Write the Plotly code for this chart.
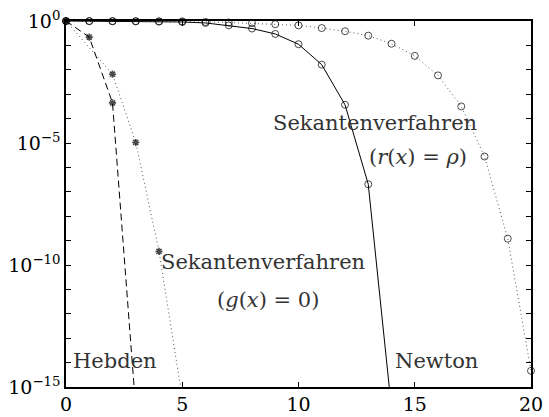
import plotly.graph_objects as go

# ---- data ----
hebden_x = [0, 1, 2, 3]
hebden_y = [1.0, 0.219, 4.4e-4, 1.3e-16]

sek_g_x = [0, 2, 3, 4, 5]
sek_g_y = [1.0, 6.6e-3, 1.05e-5, 3.6e-10, 3.6e-16]

newton_x = list(range(0, 15))
newton_y = [1.0, 0.989, 0.977, 0.966, 0.944, 0.912, 0.832, 0.661, 0.490,
            0.295, 0.112, 0.0162, 3.7e-4, 2.04e-7, 1.3e-16]

sek_r_x = list(range(0, 21))
sek_r_y = [1.0, 0.995, 0.991, 0.986, 0.977, 0.966, 0.912, 0.871, 0.813,
           0.741, 0.661, 0.513, 0.380, 0.251, 0.117, 0.0372, 5.9e-3,
           3.16e-4, 2.8e-6, 1.2e-9, 4.6e-15]

x_ticks = [0, 5, 10, 15, 20]
y_exponents = list(range(0, -16, -1))
y_labeled = [0, -5, -10, -15]

YMIN = 1e-15


def vis_sizes(ys, s):
    return [s if v >= YMIN else 0 for v in ys]


SERIF = "DejaVu Serif"

fig = go.Figure()

fig.add_trace(go.Scatter(
    x=sek_r_x, y=sek_r_y, mode="lines+markers", cliponaxis=False,
    line=dict(color="#555555", width=1, dash="1px,3px"),
    marker=dict(symbol="circle-open", size=vis_sizes(sek_r_y, 7),
                color="black", line=dict(width=1, color="black")),
    showlegend=False))

fig.add_trace(go.Scatter(
    x=newton_x, y=newton_y, mode="lines+markers", cliponaxis=False,
    line=dict(color="black", width=1),
    marker=dict(symbol="circle-open", size=vis_sizes(newton_y, 7),
                color="black", line=dict(width=1, color="black")),
    showlegend=False))

fig.add_trace(go.Scatter(
    x=sek_g_x, y=sek_g_y, mode="lines+markers", cliponaxis=False,
    line=dict(color="#555555", width=1, dash="1px,3px"),
    marker=dict(symbol="asterisk-open", size=vis_sizes(sek_g_y, 6),
                color="black", line=dict(width=1.6, color="black")),
    showlegend=False))

fig.add_trace(go.Scatter(
    x=hebden_x, y=hebden_y, mode="lines+markers", cliponaxis=False,
    line=dict(color="black", width=1, dash="7px,4px"),
    marker=dict(symbol="asterisk-open", size=vis_sizes(hebden_y, 6),
                color="black", line=dict(width=1.6, color="black")),
    showlegend=False))

# ---- annotations (log10 coordinates on y) ----
labels = [
    ("Sekantenverfahren", 13.29, -4.20),
    ("(<i>r</i>(<i>x</i>) = <i>ρ</i>)", 15.15, -5.57),
    ("Sekantenverfahren", 8.46, -9.89),
    ("(<i>g</i>(<i>x</i>) = 0)", 8.70, -11.45),
    ("Hebden", 2.11, -13.95),
    ("Newton", 15.95, -13.95),
]
for t, ax_, ay_ in labels:
    fig.add_annotation(x=ax_, y=ay_, xref="x", yref="y", text=t,
                       showarrow=False, xanchor="center", yanchor="middle",
                       font=dict(family=SERIF, size=21, color="#333333"))

leaders = [
    (14.89, -1.91, 14.51, -3.63),
    (5.69, -10.56, 4.83, -11.99),
    (2.29, -11.65, 1.54, -13.33),
    (13.89, -11.61, 14.84, -13.32),
]
for x0, y0, x1, y1 in leaders:
    fig.add_shape(type="line", xref="x", yref="y", x0=x0, y0=y0, x1=x1, y1=y1,
                  line=dict(color="black", width=1))

ytickvals = [10.0 ** e for e in y_exponents]
yticktext = [("10<sup>%s</sup>" % (str(e).replace("-", "\u2212")))
             if e in y_labeled else "" for e in y_exponents]

fig.update_layout(
    width=549, height=417,
    margin=dict(l=66, r=18, t=21, b=30),
    paper_bgcolor="white", plot_bgcolor="white",
    font=dict(family=SERIF, size=19, color="black"),
    xaxis=dict(range=[0, 20], tickvals=x_ticks, ticks="inside", ticklen=5,
               tickwidth=1, tickcolor="black", showline=True, linewidth=1.5,
               linecolor="black", mirror="ticks", showgrid=False,
               zeroline=False, automargin=False, ticklabelstandoff=-1,
               tickfont=dict(family=SERIF, size=19, color="black")),
    yaxis=dict(type="log", range=[-15, 0], tickvals=ytickvals,
               ticktext=yticktext, ticks="inside", ticklen=5, tickwidth=1,
               tickcolor="black", showline=True, linewidth=1.5,
               linecolor="black", mirror="ticks", showgrid=False,
               zeroline=False, automargin=False,
               tickfont=dict(family=SERIF, size=19, color="black")),
)

fig.write_html("out.html")
